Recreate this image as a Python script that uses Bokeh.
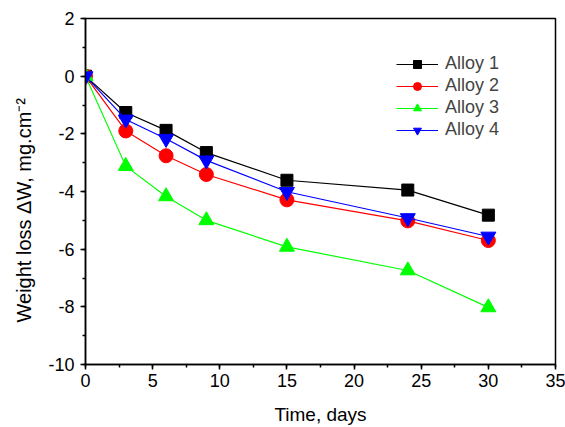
from bokeh.plotting import figure
from bokeh.models import SingleIntervalTicker, Legend, LegendItem, Title
from bokeh.embed import file_html
from bokeh.resources import INLINE

days = [0, 3, 6, 9, 15, 24, 30]
alloy1 = [0, -1.26, -1.88, -2.65, -3.61, -3.95, -4.82]
alloy2 = [0, -1.9, -2.76, -3.41, -4.29, -5.02, -5.7]
alloy3 = [0, -3.12, -4.17, -5.0, -5.92, -6.74, -8.02]
alloy4 = [0, -1.5, -2.17, -2.92, -4.01, -4.92, -5.56]
names = ["Alloy 1", "Alloy 2", "Alloy 3", "Alloy 4"]
colors = ["black", "red", "#00ff00", "blue"]
xticks = [0, 5, 10, 15, 20, 25, 30, 35]
yticks = [-10, -8, -6, -4, -2, 0, 2]

FONT = "Liberation Sans"

p = figure(width=565, height=427, x_range=(0, 35), y_range=(-10, 2),
           output_backend="svg", toolbar_location=None,
           min_border_left=84, min_border_right=10, min_border_top=18, min_border_bottom=63)
p.grid.visible = False
p.outline_line_color = "black"
p.outline_line_width = 1.5

p.xaxis.ticker = SingleIntervalTicker(interval=5, num_minor_ticks=2)
p.yaxis.ticker = SingleIntervalTicker(interval=2, num_minor_ticks=2)
p.xaxis.major_label_overrides = {v: str(v) for v in xticks}
p.yaxis.major_label_overrides = {v: str(v) for v in yticks}
for ax in (p.xaxis, p.yaxis):
    ax.axis_line_width = 1.5
    ax.major_tick_line_width = 1.5
    ax.minor_tick_line_width = 1.5
    ax.major_tick_in = 0
    ax.major_tick_out = 5
    ax.minor_tick_in = 0
    ax.minor_tick_out = 3
    ax.major_label_text_font = FONT
    ax.major_label_text_font_size = "18px"
    ax.major_label_text_color = "black"
    ax.axis_label_text_font = FONT
    ax.axis_label_text_font_size = "19px"
    ax.axis_label_text_font_style = "normal"
    ax.axis_label_text_color = "black"
p.xaxis.major_label_standoff = 4
p.yaxis.major_label_standoff = 6
p.xaxis.axis_label = "Time, days"
p.xaxis.axis_label_standoff = 14

ytitle = Title(text="Weight loss \u0394W, mg.cm\u207b\u00b2", align="left", offset=42,
               text_font=FONT, text_font_size="20px", text_font_style="normal",
               text_color="black", standoff=21)
p.add_layout(ytitle, "left")

series = [alloy1, alloy2, alloy3, alloy4]
items = []
for name, vals, c, i in zip(names, series, colors, range(4)):
    ln = p.line(days, vals, line_color=c, line_width=1.2)
    if i == 0:
        mk = p.scatter(days, vals, marker="square", size=12, color=c)
    elif i == 1:
        mk = p.scatter(days, vals, marker="circle", size=14, color=c)
    elif i == 2:
        mk = p.scatter(days, vals, marker="triangle", size=15, color=c)
    else:
        mk = p.scatter(days, vals, marker="inverted_triangle", size=15, color=c)
    items.append(LegendItem(label=name, renderers=[ln, mk]))

legend = Legend(items=items, location=(311, 224), border_line_color=None,
                background_fill_alpha=0, padding=0, margin=0, spacing=1,
                glyph_width=42, glyph_height=20, label_height=20,
                label_standoff=7, label_text_font=FONT, label_text_font_size="18px")
p.add_layout(legend)

open("out.html", "w").write(file_html(p, INLINE))
